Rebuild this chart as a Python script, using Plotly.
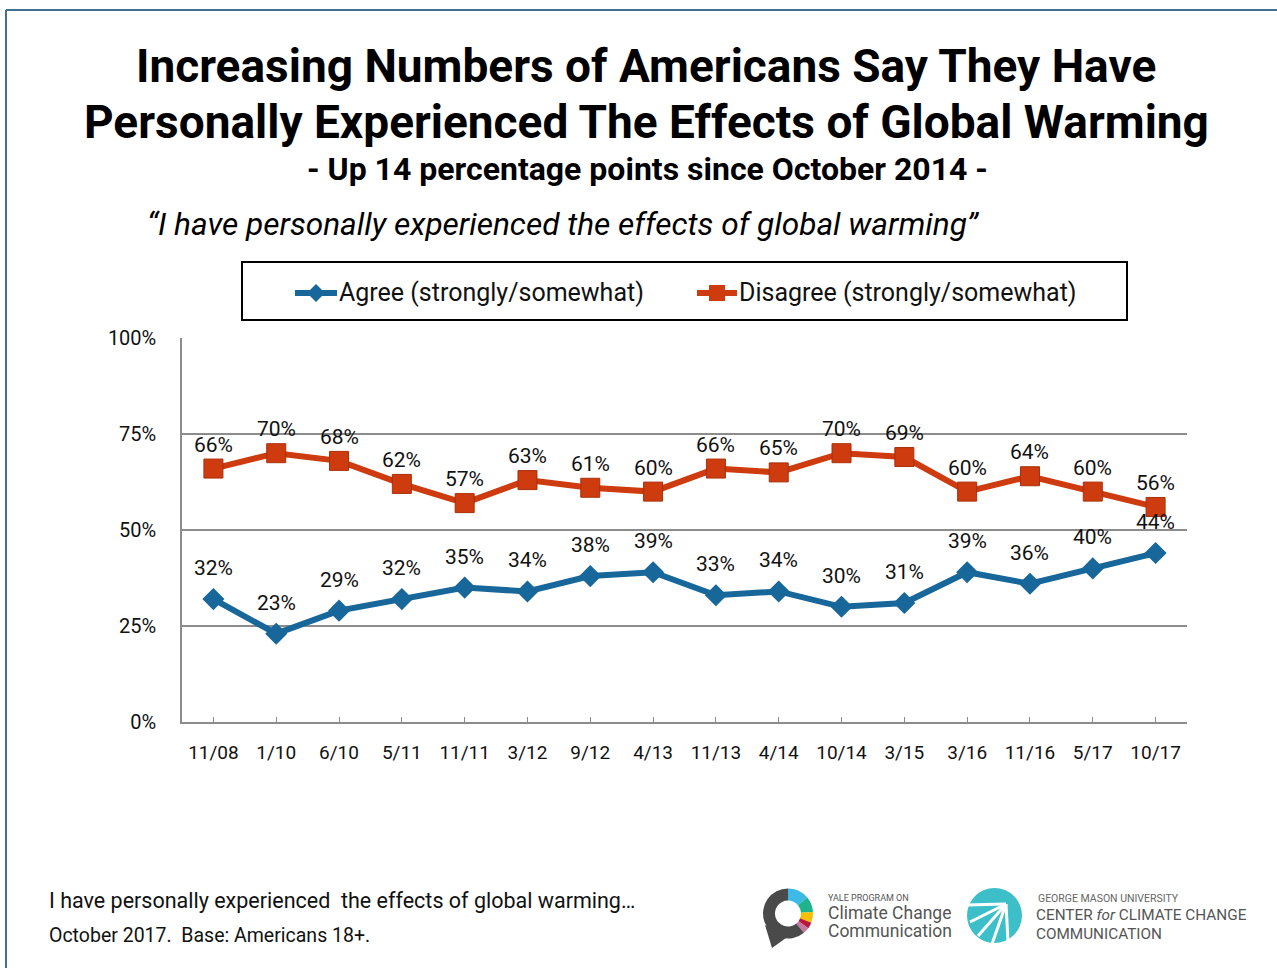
import plotly.graph_objects as go

W, H = 1277, 968

periods = ["11/08", "1/10", "6/10", "5/11", "11/11", "3/12", "9/12", "4/13",
           "11/13", "4/14", "10/14", "3/15", "3/16", "11/16", "5/17", "10/17"]
agree = [32, 23, 29, 32, 35, 34, 38, 39, 33, 34, 30, 31, 39, 36, 40, 44]
disagree = [66, 70, 68, 62, 57, 63, 61, 60, 66, 65, 70, 69, 60, 64, 60, 56]
y_ticks = [0, 25, 50, 75, 100]

BLUE = "#17679a"
RED = "#cd3b0e"
GRID = "#8c8c8c"
FONT = "Roboto"


def px(x):
    return x / W


def py(y):
    return 1 - y / H


def path(points):
    s = "M " + " L ".join(f"{px(x):.5f},{py(y):.5f}" for x, y in points)
    return s + " Z"


fig = go.Figure()

fig.add_trace(go.Scatter(
    x=periods, y=disagree, mode="lines+markers", name="Disagree (strongly/somewhat)",
    line=dict(color=RED, width=6),
    marker=dict(symbol="square", size=19, color=RED, line=dict(color="#a8300b", width=1)),
    showlegend=False,
))
fig.add_trace(go.Scatter(
    x=periods, y=agree, mode="lines+markers", name="Agree (strongly/somewhat)",
    line=dict(color=BLUE, width=6),
    marker=dict(symbol="diamond", size=17, color=BLUE),
    showlegend=False,
))

# data labels
annotations = []
for vals, shift in ((disagree, 24), (agree, 31)):
    for p, v in zip(periods, vals):
        annotations.append(dict(
            x=p, y=v, xref="x", yref="y", text=f"{v}%", showarrow=False,
            yshift=shift, font=dict(size=21, color="#111", family=FONT),
        ))

# yale logo ring
fig.add_trace(go.Pie(
    values=[14, 10, 7, 4, 4, 61],
    marker=dict(colors=["#3cb9e6", "#1db38b", "#f6c000", "#b8183d", "#c678a2", "#4a4a4a"]),
    hole=0.52, sort=False, direction="clockwise", rotation=0,
    textinfo="none", hoverinfo="skip", showlegend=False, automargin=False,
    domain=dict(x=[px(763), px(813)], y=[py(939), py(888)]),
))


def text(x, y, s, size, bold=False, italic=False, color="#000", anchor="center"):
    if bold:
        s = f"<b>{s}</b>"
    if italic:
        s = f"<i>{s}</i>"
    annotations.append(dict(
        x=px(x), y=py(y), xref="paper", yref="paper", text=s, showarrow=False,
        xanchor=anchor, yanchor="middle", font=dict(size=size, color=color, family=FONT),
    ))


text(646, 66, "Increasing Numbers of Americans Say They Have", 46, bold=True)
text(646, 122, "Personally Experienced The Effects of Global Warming", 46, bold=True)
text(647, 169, "- Up 14 percentage points since October 2014 -", 32, bold=True)
text(145, 225, "\u201cI have personally experienced the effects of global warming\u201d", 31.6,
     italic=True, anchor="left")

# legend
text(337, 293, "Agree (strongly/somewhat)", 25, anchor="left", color="#111")
text(737, 293, "Disagree (strongly/somewhat)", 25, anchor="left", color="#111")

# footer
text(47, 900, "I have personally experienced  the effects of global warming\u2026", 21.5,
     anchor="left", color="#111")
text(47, 935, "October 2017.  Base: Americans 18+.", 19.5, anchor="left", color="#111")

# logo texts
text(826, 898, "YALE PROGRAM ON", 9, anchor="left", color="#555")
text(826, 913, "Climate Change", 17.5, anchor="left", color="#555")
text(826, 931, "Communication", 17.5, anchor="left", color="#555")
text(1036, 898, "GEORGE MASON UNIVERSITY", 10.5, anchor="left", color="#666")
text(1034, 915, "CENTER <i>for</i> CLIMATE CHANGE", 15.3, anchor="left", color="#555")
text(1034, 934, "COMMUNICATION", 15.3, anchor="left", color="#555")

shapes = [
    # outer frame (top and left edges; the rest runs off the page)
    dict(type="line", xref="paper", yref="paper", x0=px(6), y0=py(10), x1=1, y1=py(10),
         line=dict(color="#41708e", width=2)),
    dict(type="line", xref="paper", yref="paper", x0=px(6), y0=py(10), x1=px(6), y1=0,
         line=dict(color="#41708e", width=2)),
    # legend box
    dict(type="rect", xref="paper", yref="paper", x0=px(242), y0=py(262), x1=px(1127), y1=py(320),
         line=dict(color="#000", width=2)),
    dict(type="line", xref="paper", yref="paper", x0=px(295), y0=py(293), x1=px(337), y1=py(293),
         line=dict(color=BLUE, width=6)),
    dict(type="path", xref="paper", yref="paper",
         path=path([(316, 284), (325, 293), (316, 302), (307, 293)]),
         fillcolor=BLUE, line=dict(width=0)),
    dict(type="line", xref="paper", yref="paper", x0=px(697), y0=py(293), x1=px(737), y1=py(293),
         line=dict(color=RED, width=6)),
    dict(type="rect", xref="paper", yref="paper", x0=px(709), y0=py(285), x1=px(725), y1=py(301),
         fillcolor=RED, line=dict(width=0)),
    # yale logo tail
    dict(type="path", xref="paper", yref="paper",
         path=path([(765, 925), (772, 948), (786, 938)]),
         fillcolor="#4a4a4a", line=dict(width=0)),
    # gmu logo
    dict(type="circle", xref="paper", yref="paper", x0=px(967), y0=py(888), x1=px(1022), y1=py(943),
         fillcolor="#3cbfc8", line=dict(width=0)),
]
for ex, ey in ((967, 905), (970, 922), (978, 936), (992, 944), (1008, 941)):
    shapes.append(dict(type="line", xref="paper", yref="paper",
                       x0=px(1006), y0=py(904), x1=px(ex), y1=py(ey),
                       line=dict(color="white", width=3)))

fig.update_layout(
    width=W, height=H,
    margin=dict(l=0, r=0, t=0, b=0, autoexpand=False),
    paper_bgcolor="white",
    plot_bgcolor="rgba(0,0,0,0)",
    font=dict(family=FONT, color="#111"),
    annotations=annotations,
    shapes=shapes,
    xaxis=dict(
        domain=[px(182), px(1187)], range=[-0.5, 15.5], type="category", automargin=False,
        showline=True, linecolor=GRID, linewidth=1.5, showgrid=False,
        ticks="inside", ticklen=5, tickcolor=GRID, tickwidth=1,
        tickfont=dict(size=19, color="#111", family=FONT), ticklabelstandoff=12,
    ),
    yaxis=dict(
        domain=[py(722), py(338)], range=[0, 100], automargin=False,
        tickvals=y_ticks, ticktext=[f"{t}%" for t in y_ticks],
        showline=True, linecolor=GRID, linewidth=1.5,
        showgrid=True, gridcolor=GRID, gridwidth=1.5, zeroline=False,
        tickfont=dict(size=20, color="#111", family=FONT), ticklabelstandoff=20,
    ),
)

fig.write_html(
    "out.html",
    config={"displayModeBar": False},
    post_script="document.body.style.margin='0';document.body.style.overflow='hidden';",
)
